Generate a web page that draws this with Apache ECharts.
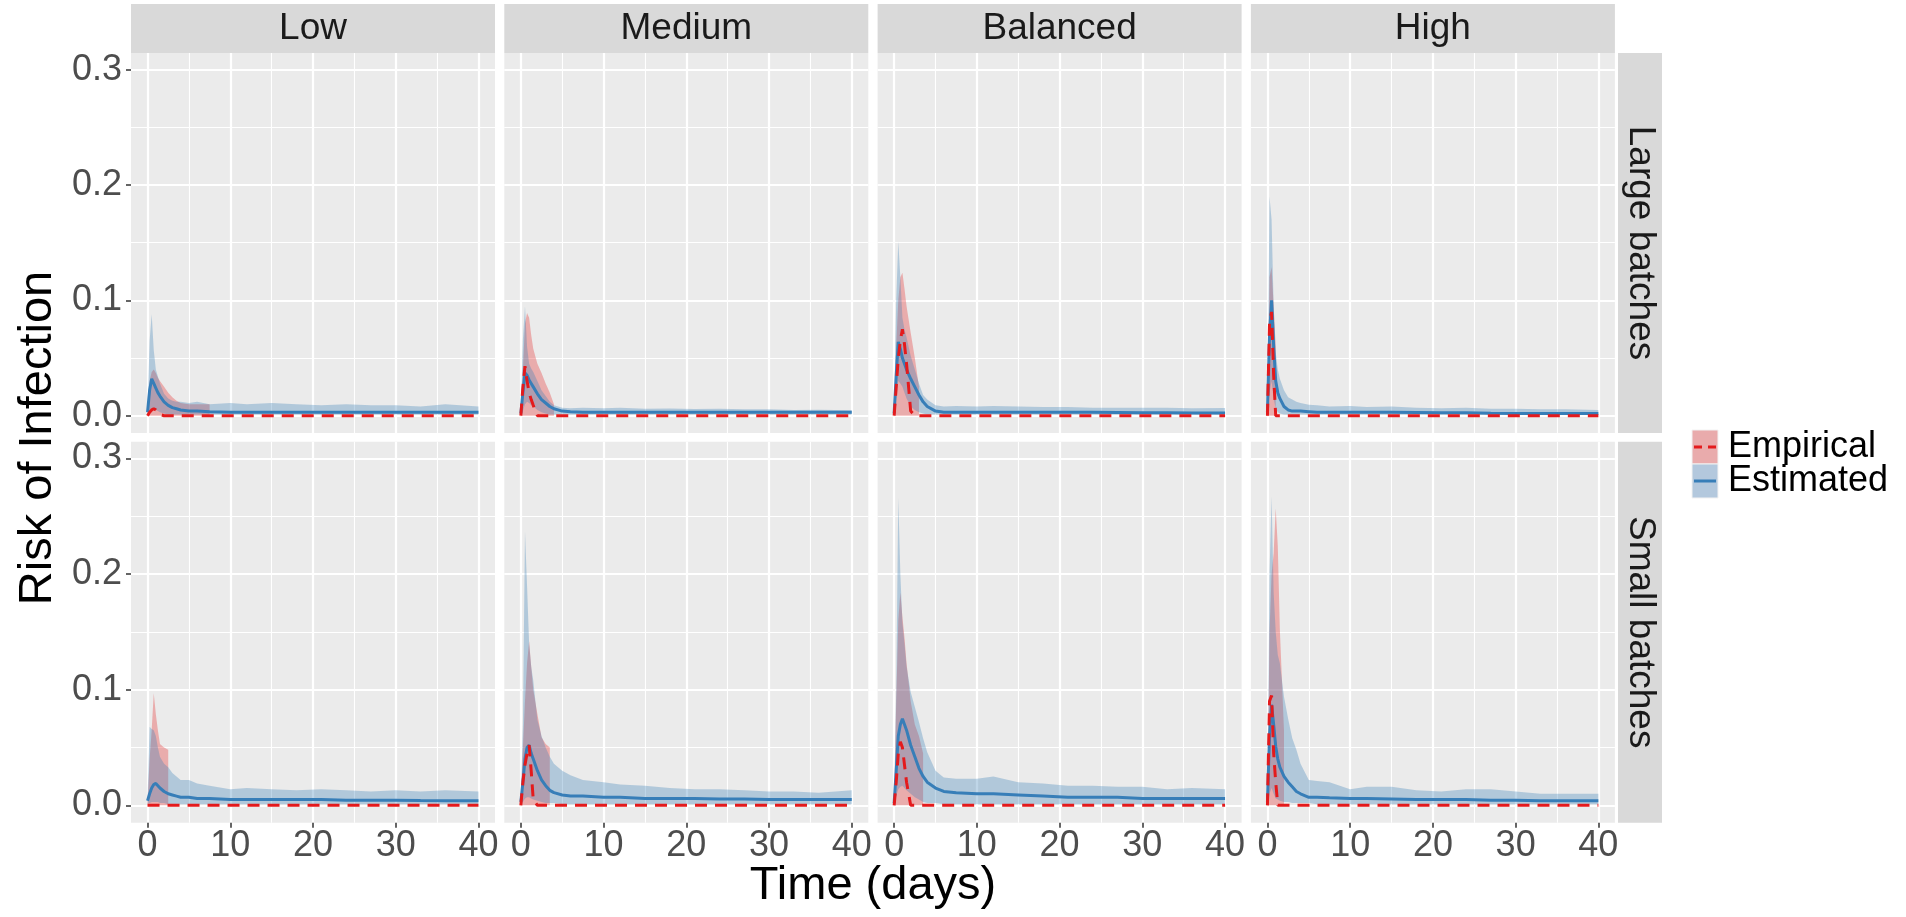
<!DOCTYPE html>
<html><head><meta charset="utf-8">
<script src="https://cdn.jsdelivr.net/npm/echarts@6/dist/echarts.min.js"></script>
<style>html,body{margin:0;padding:0;background:#fff}#c{width:1906px;height:917px}</style>
</head><body><div id="c"></div><script>
// ---------------- data ----------------
const T = [0, 0.25, 0.5, 0.75, 1, 1.25, 1.5, 2, 2.5, 3, 3.5, 4, 5, 6, 7.5, 10, 12, 15, 18, 21, 24, 27, 30, 33, 36, 40];
const colLevels = ['Low', 'Medium', 'Balanced', 'High'];
const rowLevels = ['Large batches', 'Small batches'];
const xTicks = [0, 10, 20, 30, 40];
const xMinor = [5, 15, 25, 35];
const yTicks = [0, 0.1, 0.2, 0.3];
const yMinor = [0.05, 0.15, 0.25];
const legendLabels = ['Empirical', 'Estimated'];

// Large batches
const estMid_Low_Large = [0.003,0.022,0.032,0.028,0.024,0.020,0.017,0.012,0.009,0.007,0.006,0.005,0.004,0.004,0.0035,0.003,0.003,0.003,0.003,0.003,0.003,0.003,0.003,0.003,0.003,0.003];
const estLo_Low_Large = [0.000,0.004,0.007,0.006,0.005,0.004,0.003,0.002,0.001,0.001,0.001,0.001,0.001,0.001,0.001,0.001,0.001,0.001,0.001,0.001,0.001,0.001,0.001,0.001,0.001,0.001];
const estHi_Low_Large = [0.005,0.065,0.088,0.057,0.040,0.034,0.028,0.019,0.015,0.013,0.012,0.012,0.011,0.012,0.010,0.011,0.010,0.011,0.010,0.009,0.010,0.009,0.009,0.008,0.010,0.008];
const empMid_Low_Large = [0,0.003,0.005,0.006,0.005,0.003,0.001,0,0,0,0,0,0,0,0,0,0,0,0,0,0,0,0,0,0,0];
const empLo_Low_Large = [0,0,0,0,0,0,0,0,0,0,0,0,0,0,0];
const empHi_Low_Large = [0.004,0.030,0.038,0.040,0.037,0.033,0.030,0.025,0.020,0.016,0.013,0.011,0.010,0.010,0.010];

const estMid_Medium_Large = [0.002,0.020,0.037,0.035,0.031,0.028,0.025,0.019,0.014,0.011,0.008,0.006,0.004,0.0035,0.003,0.003,0.003,0.003,0.003,0.003,0.003,0.003,0.003,0.003,0.003,0.003];
const estLo_Medium_Large = [0.000,0.004,0.010,0.012,0.011,0.009,0.008,0.005,0.003,0.002,0.001,0.001,0.001,0.001,0.001,0.001,0.001,0.001,0.001,0.001,0.001,0.001,0.001,0.001,0.001,0.001];
const estHi_Medium_Large = [0.004,0.066,0.095,0.060,0.045,0.041,0.038,0.030,0.022,0.017,0.012,0.009,0.007,0.0065,0.007,0.0065,0.0068,0.006,0.0062,0.0058,0.006,0.0055,0.0057,0.005,0.0052,0.0048];
const empMid_Medium_Large = [0,0.025,0.043,0.030,0.020,0.014,0.009,0,0,0,0,0,0,0,0,0,0,0,0,0,0,0,0,0,0,0];
const empLo_Medium_Large = [0,0,0,0,0,0,0,0,0,0,0,0];
const empHi_Medium_Large = [0.004,0.040,0.080,0.089,0.085,0.070,0.058,0.045,0.037,0.028,0.020,0.010];

const estMid_Balanced_Large = [0.002,0.035,0.064,0.058,0.050,0.045,0.040,0.032,0.025,0.018,0.012,0.008,0.004,0.003,0.003,0.003,0.003,0.003,0.003,0.003,0.003,0.0028,0.0025,0.0025,0.0023,0.0023];
const estLo_Balanced_Large = [0.000,0.015,0.030,0.028,0.025,0.020,0.015,0.008,0.005,0.003,0.002,0.001,0.001,0.001,0.001,0.001,0.001,0.001,0.001,0.001,0.001,0.001,0.001,0.001,0.001,0.001];
const estHi_Balanced_Large = [0.005,0.100,0.151,0.120,0.085,0.075,0.068,0.052,0.040,0.028,0.018,0.014,0.009,0.008,0.0085,0.008,0.0085,0.008,0.0075,0.0075,0.007,0.007,0.0068,0.007,0.0065,0.0066];
const empMid_Balanced_Large = [0,0.025,0.050,0.065,0.075,0.062,0.045,0.004,0,0,0,0,0,0,0,0,0,0,0,0,0,0,0,0,0,0];
const empLo_Balanced_Large = [0,0,0,0,0,0,0,0,0,0];
const empHi_Balanced_Large = [0.004,0.060,0.100,0.120,0.124,0.110,0.095,0.072,0.050,0.025];

const estMid_High_Large = [0.003,0.070,0.100,0.060,0.030,0.020,0.015,0.008,0.005,0.004,0.004,0.004,0.0035,0.003,0.003,0.003,0.003,0.003,0.0028,0.0025,0.0025,0.0022,0.002,0.002,0.002,0.002];
const estLo_High_Large = [0.000,0.020,0.030,0.015,0.006,0.003,0.002,0.001,0.001,0.001,0.001,0.001,0.001,0.001,0.001,0.001,0.001,0.001,0.001,0.001,0.001,0.001,0.001,0.001,0.001,0.001];
const estHi_High_Large = [0.005,0.190,0.170,0.095,0.055,0.040,0.032,0.022,0.016,0.014,0.012,0.011,0.0095,0.009,0.008,0.0085,0.0075,0.008,0.007,0.0065,0.0068,0.006,0.006,0.0055,0.0055,0.005];
const empMid_High_Large = [0,0.080,0.090,0.035,0,0,0,0,0,0,0,0,0,0,0,0,0,0,0,0,0,0,0,0,0,0];
const empLo_High_Large = [0,0,0,0,0];
const empHi_High_Large = [0.004,0.120,0.129,0.095,0.060];

// Small batches
const estMid_Low_Small = [0.004,0.010,0.015,0.018,0.019,0.017,0.015,0.012,0.010,0.009,0.008,0.007,0.007,0.006,0.006,0.005,0.005,0.005,0.005,0.005,0.0045,0.0045,0.0045,0.0042,0.004,0.004];
const estLo_Low_Small = [0.001,0.002,0.003,0.003,0.003,0.003,0.002,0.002,0.001,0.001,0.001,0.001,0.001,0.001,0.001,0.001,0.001,0.001,0.001,0.001,0.001,0.001,0.001,0.001,0.001,0.001];
const estHi_Low_Small = [0.006,0.068,0.066,0.065,0.060,0.050,0.042,0.036,0.033,0.028,0.025,0.022,0.022,0.019,0.017,0.014,0.015,0.014,0.013,0.014,0.013,0.012,0.013,0.012,0.013,0.012];
const empMid_Low_Small = [0,0,0,0,0,0,0,0,0,0,0,0,0,0,0,0,0,0,0,0,0,0,0,0,0,0];
const empLo_Low_Small = [0,0,0,0,0,0,0,0,0];
const empHi_Low_Small = [0.004,0.040,0.065,0.097,0.079,0.065,0.053,0.050,0.048];

const estMid_Medium_Small = [0.003,0.020,0.040,0.050,0.052,0.045,0.040,0.030,0.022,0.017,0.013,0.011,0.009,0.008,0.008,0.007,0.007,0.006,0.006,0.006,0.0055,0.0055,0.005,0.005,0.005,0.005];
const estLo_Medium_Small = [0.000,0.003,0.006,0.007,0.007,0.006,0.005,0.004,0.003,0.002,0.002,0.002,0.001,0.001,0.001,0.001,0.001,0.001,0.001,0.001,0.001,0.001,0.001,0.001,0.001,0.001];
const estHi_Medium_Small = [0.005,0.070,0.237,0.190,0.140,0.120,0.108,0.074,0.060,0.050,0.042,0.036,0.030,0.026,0.022,0.020,0.018,0.017,0.015,0.014,0.014,0.013,0.012,0.012,0.011,0.013];
const empMid_Medium_Small = [0,0.020,0.035,0.045,0.052,0.030,0.005,0,0,0,0,0,0,0,0,0,0,0,0,0,0,0,0,0,0,0];
const empLo_Medium_Small = [0,0,0,0,0,0,0,0,0,0,0];
const empHi_Medium_Small = [0.004,0.050,0.090,0.123,0.142,0.120,0.100,0.079,0.059,0.053,0.050];

const estMid_Balanced_Small = [0.002,0.030,0.060,0.070,0.075,0.070,0.065,0.052,0.042,0.032,0.025,0.020,0.015,0.012,0.011,0.010,0.010,0.009,0.008,0.007,0.007,0.007,0.006,0.006,0.006,0.006];
const estLo_Balanced_Small = [0.000,0.008,0.014,0.016,0.017,0.015,0.013,0.010,0.007,0.005,0.003,0.002,0.002,0.001,0.001,0.001,0.001,0.001,0.001,0.001,0.001,0.001,0.001,0.001,0.001,0.001];
const estHi_Balanced_Small = [0.005,0.100,0.266,0.200,0.158,0.140,0.120,0.098,0.085,0.072,0.058,0.046,0.030,0.024,0.023,0.023,0.025,0.020,0.019,0.017,0.017,0.016,0.016,0.014,0.015,0.014];
const empMid_Balanced_Small = [0,0.020,0.045,0.055,0.050,0.035,0.020,0,0,0,0,0,0,0,0,0,0,0,0,0,0,0,0,0,0,0];
const empLo_Balanced_Small = [0,0,0,0,0,0,0,0,0,0,0];
const empHi_Balanced_Small = [0.004,0.090,0.160,0.184,0.163,0.145,0.123,0.090,0.070,0.060,0.045];

const estMid_High_Small = [0.003,0.060,0.087,0.070,0.051,0.040,0.033,0.025,0.020,0.016,0.012,0.010,0.007,0.007,0.0065,0.006,0.006,0.0055,0.005,0.005,0.005,0.0045,0.0045,0.004,0.004,0.004];
const estLo_High_Small = [0.000,0.010,0.015,0.010,0.006,0.005,0.004,0.003,0.003,0.002,0.002,0.002,0.002,0.001,0.001,0.001,0.001,0.001,0.001,0.001,0.001,0.001,0.001,0.001,0.001,0.001];
const estHi_High_Small = [0.005,0.200,0.267,0.184,0.150,0.130,0.123,0.094,0.075,0.058,0.048,0.036,0.022,0.021,0.020,0.014,0.016,0.016,0.013,0.012,0.014,0.014,0.012,0.010,0.010,0.010];
const empMid_High_Small = [0,0.090,0.095,0.045,0.020,0,0,0,0,0,0,0,0,0,0,0,0,0,0,0,0,0,0,0,0,0];
const empLo_High_Small = [0,0,0,0,0,0,0,0];
const empHi_High_Small = [0.004,0.150,0.200,0.218,0.257,0.224,0.152,0.065];

const panels = [
  [ // Large batches
    {estMid: estMid_Low_Large, estLo: estLo_Low_Large, estHi: estHi_Low_Large, empMid: empMid_Low_Large, empLo: empLo_Low_Large, empHi: empHi_Low_Large},
    {estMid: estMid_Medium_Large, estLo: estLo_Medium_Large, estHi: estHi_Medium_Large, empMid: empMid_Medium_Large, empLo: empLo_Medium_Large, empHi: empHi_Medium_Large},
    {estMid: estMid_Balanced_Large, estLo: estLo_Balanced_Large, estHi: estHi_Balanced_Large, empMid: empMid_Balanced_Large, empLo: empLo_Balanced_Large, empHi: empHi_Balanced_Large},
    {estMid: estMid_High_Large, estLo: estLo_High_Large, estHi: estHi_High_Large, empMid: empMid_High_Large, empLo: empLo_High_Large, empHi: empHi_High_Large}
  ],
  [ // Small batches
    {estMid: estMid_Low_Small, estLo: estLo_Low_Small, estHi: estHi_Low_Small, empMid: empMid_Low_Small, empLo: empLo_Low_Small, empHi: empHi_Low_Small},
    {estMid: estMid_Medium_Small, estLo: estLo_Medium_Small, estHi: estHi_Medium_Small, empMid: empMid_Medium_Small, empLo: empLo_Medium_Small, empHi: empHi_Medium_Small},
    {estMid: estMid_Balanced_Small, estLo: estLo_Balanced_Small, estHi: estHi_Balanced_Small, empMid: empMid_Balanced_Small, empLo: empLo_Balanced_Small, empHi: empHi_Balanced_Small},
    {estMid: estMid_High_Small, estLo: estLo_High_Small, estHi: estHi_High_Small, empMid: empMid_High_Small, empLo: empLo_High_Small, empHi: empHi_High_Small}
  ]
];

// ---------------- styling / layout ----------------
const FONT = 'Liberation Sans';
const RED = '#E41A1C', BLUE = '#377EB8';
const RED_FILL = 'rgba(228,26,28,0.30)', BLUE_FILL = 'rgba(55,126,184,0.32)';
const gridLeft0 = 131, colStep = 373.3, gridW = 364;
const rowTops = [53, 441.7], rowH = [380, 381];
const stripTop = 4, stripH = 49;
const rStripX = 1618, rStripW = 44;

const grids = [], xAxes = [], yAxes = [], series = [], graphics = [];

function ribbon(ai, lo, hi, color) {
  const rows = [];
  for (let i = 0; i < hi.length; i++) if (hi[i] != null) rows.push([T[i], lo[i], hi[i]]);
  return {
    type: 'custom', xAxisIndex: ai, yAxisIndex: ai, data: rows, encode: {x: 0, y: [1, 2]}, silent: true, z: 2,
    renderItem: function (params, api) {
      if (params.dataIndex !== 0) return null;
      const pts = [];
      for (let i = 0; i < rows.length; i++) pts.push(api.coord([rows[i][0], rows[i][2]]));
      for (let i = rows.length - 1; i >= 0; i--) pts.push(api.coord([rows[i][0], rows[i][1]]));
      return {type: 'polygon', shape: {points: pts}, style: {fill: color}};
    }
  };
}

rowLevels.forEach(function (rl, r) {
  colLevels.forEach(function (cl, c) {
    const gi = grids.length;
    const left = gridLeft0 + c * colStep;
    grids.push({left: left, top: rowTops[r], width: gridW, height: rowH[r], show: true,
      backgroundColor: '#EBEBEB', borderWidth: 0});
    // major x axis
    xAxes.push({type: 'value', gridIndex: gi, min: -2, max: 42, position: 'bottom',
      axisLine: {show: false, onZero: false},
      axisTick: {show: r === 1, customValues: xTicks, length: 5, lineStyle: {color: '#333333', width: 1.5}},
      axisLabel: {show: r === 1, customValues: xTicks, margin: 5, fontSize: 36, color: '#4D4D4D', fontFamily: FONT},
      splitLine: {show: true, lineStyle: {color: '#FFFFFF', width: 2.2}}});
    // minor x grid
    xAxes.push({type: 'value', gridIndex: gi, min: -2, max: 42, position: 'top',
      axisLine: {show: false, onZero: false},
      axisTick: {show: false, customValues: xMinor},
      axisLabel: {show: false},
      splitLine: {show: true, lineStyle: {color: '#FFFFFF', width: 1.1}}});
    // major y axis
    yAxes.push({type: 'value', gridIndex: gi, min: -0.015, max: 0.3145, position: 'left',
      axisLine: {show: false, onZero: false},
      axisTick: {show: c === 0, customValues: yTicks, length: 5, lineStyle: {color: '#333333', width: 1.5}},
      axisLabel: {show: c === 0, customValues: yTicks, margin: 9, fontSize: 36, color: '#4D4D4D', fontFamily: FONT,
        formatter: function (v) { return v.toFixed(1); }},
      splitLine: {show: true, lineStyle: {color: '#FFFFFF', width: 2.2}}});
    // minor y grid
    yAxes.push({type: 'value', gridIndex: gi, min: -0.015, max: 0.3145, position: 'right',
      axisLine: {show: false, onZero: false},
      axisTick: {show: false, customValues: yMinor},
      axisLabel: {show: false},
      splitLine: {show: true, lineStyle: {color: '#FFFFFF', width: 1.1}}});

    const ai = 2 * gi;
    const p = panels[r][c];
    series.push(ribbon(ai, p.empLo, p.empHi, RED_FILL));
    series.push(ribbon(ai, p.estLo, p.estHi, BLUE_FILL));
    series.push({type: 'line', xAxisIndex: ai, yAxisIndex: ai, z: 3, silent: true, showSymbol: false, symbol: 'none',
      data: T.map(function (t, i) { return [t, p.estMid[i]]; }),
      lineStyle: {color: BLUE, width: 3}});
    series.push({type: 'line', xAxisIndex: ai, yAxisIndex: ai, z: 4, silent: true, showSymbol: false, symbol: 'none',
      data: T.map(function (t, i) { return [t, p.empMid[i]]; }),
      lineStyle: {color: RED, width: 3, type: [12, 8]}});

    // top strips
    if (r === 0) {
      graphics.push({type: 'rect', shape: {x: left, y: stripTop, width: gridW, height: stripH}, style: {fill: '#D9D9D9'}, silent: true});
      graphics.push({type: 'text', x: left + gridW / 2, y: stripTop + stripH / 2, silent: true,
        style: {text: cl, font: '37px "' + FONT + '"', fill: '#1A1A1A', align: 'center', verticalAlign: 'middle'}});
    }
    // right strips
    if (c === colLevels.length - 1) {
      graphics.push({type: 'rect', shape: {x: rStripX, y: rowTops[r], width: rStripW, height: rowH[r]}, style: {fill: '#D9D9D9'}, silent: true});
      graphics.push({type: 'text', x: rStripX + rStripW / 2, y: rowTops[r] + rowH[r] / 2, rotation: -Math.PI / 2, silent: true,
        style: {text: rl, font: '37px "' + FONT + '"', fill: '#1A1A1A', align: 'center', verticalAlign: 'middle'}});
    }
  });
});

// axis titles
graphics.push({type: 'text', x: 873, y: 886, silent: true,
  style: {text: 'Time (days)', font: '47px "' + FONT + '"', fill: '#000', align: 'center', verticalAlign: 'middle'}});
graphics.push({type: 'text', x: 38, y: 438, rotation: Math.PI / 2, silent: true,
  style: {text: 'Risk of Infection', font: '47px "' + FONT + '"', fill: '#000', align: 'center', verticalAlign: 'middle'}});

// legend
const keyX = 1692, keyW = 26, keyYs = [430, 464], keyH = 34;
const keyFills = ['#E9ABAC', '#B3C8DD'];
const keyLines = [{stroke: RED, lineDash: [8, 6]}, {stroke: BLUE, lineDash: null}];
legendLabels.forEach(function (lab, i) {
  graphics.push({type: 'rect', shape: {x: keyX, y: keyYs[i], width: keyW, height: keyH}, style: {fill: keyFills[i], stroke: '#F2F2F2', lineWidth: 1}, silent: true});
  graphics.push({type: 'line', shape: {x1: keyX + 2, y1: keyYs[i] + keyH / 2, x2: keyX + keyW - 2, y2: keyYs[i] + keyH / 2},
    style: {stroke: keyLines[i].stroke, lineWidth: 3, lineDash: keyLines[i].lineDash}, silent: true});
  graphics.push({type: 'text', x: 1728, y: keyYs[i] + keyH / 2, silent: true,
    style: {text: lab, font: '36px "' + FONT + '"', fill: '#000', align: 'left', verticalAlign: 'middle'}});
});

const chart = echarts.init(document.getElementById('c'), null, {renderer: 'canvas'});
chart.setOption({
  animation: false,
  backgroundColor: '#FFFFFF',
  textStyle: {fontFamily: FONT},
  grid: grids,
  xAxis: xAxes,
  yAxis: yAxes,
  series: series,
  graphic: {elements: graphics}
});
</script></body></html>
